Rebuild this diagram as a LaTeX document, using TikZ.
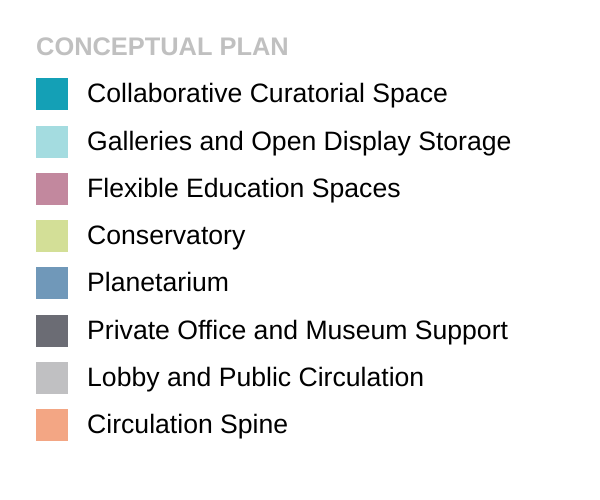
\documentclass[tikz,border=0pt]{standalone}
\usepackage{fontspec}
\setmainfont{Liberation Sans}
\usetikzlibrary{positioning}
\definecolor{curTeal}{HTML}{14A0B6}
\definecolor{galCyan}{HTML}{A4DCE0}
\definecolor{eduMauve}{HTML}{C2889E}
\definecolor{conGreen}{HTML}{D3DF97}
\definecolor{plaBlue}{HTML}{7098B9}
\definecolor{offGray}{HTML}{6B6C74}
\definecolor{lobGray}{HTML}{C0C0C2}
\definecolor{spiSalmon}{HTML}{F3A684}
\definecolor{titleGray}{HTML}{C0C0C0}
\tikzset{
swatch/.style={fill=#1,minimum size=32pt,inner sep=0pt,outer sep=0pt},
legendText/.style={font=\fontsize{26.6}{30}\selectfont,text=black,inner sep=0pt,anchor=base west},
}
\begin{document}
\begin{tikzpicture}[x=1pt,y=-1pt]
\useasboundingbox[fill=white](0,0)rectangle(600,500);
%title
\node[font=\bfseries\fontsize{25.4}{28}\selectfont,text=titleGray,inner sep=0pt,anchor=base west](title)at(36,56){CONCEPTUAL PLAN};
%legend rows
\foreach \col/\txt [count=\i] in {curTeal/Collaborative Curatorial Space,galCyan/Galleries and Open Display Storage,eduMauve/Flexible Education Spaces,conGreen/Conservatory,plaBlue/Planetarium,offGray/Private Office and Museum Support,lobGray/Lobby and Public Circulation,spiSalmon/Circulation Spine}{
\node[swatch=\col](sw\i)at(52,{94.5+47.2*(\i-1)}){};
\node[legendText](lb\i)at([xshift=19pt,yshift=-8.5pt]sw\i.east){\txt};
}
\end{tikzpicture}
\end{document}
